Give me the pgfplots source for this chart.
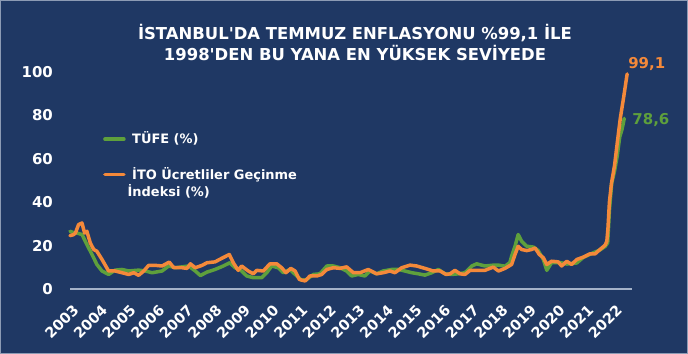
\documentclass[border=0pt]{standalone}
\usepackage{fontspec}
\setmainfont{DejaVu Sans}
\usepackage{graphicx}
\usepackage{pgfplots}
\pgfplotsset{compat=1.18}
\definecolor{bg}{HTML}{1F3864}
\definecolor{greenc}{HTML}{5EA03C}
\definecolor{orangec}{HTML}{F4893A}
\definecolor{axcol}{HTML}{A4B2C8}
\definecolor{bordc}{HTML}{8C9BB4}
\pgfplotsset{twolineimage/.style={legend image code/.code={\draw[##1, line width=3.5bp] (0bp,21.7bp) -- (19bp,21.7bp);}}}
\begin{document}
\begin{tikzpicture}
\fill[bg] (0,0) rectangle (688bp,354bp);
\draw[bordc, line width=1.2bp] (0.6bp,0.6bp) rectangle (687.4bp,353.4bp);
\node[text=white, font=\bfseries\fontsize{16.5}{20}\selectfont, inner sep=0pt] at (355bp,320.5bp) {İSTANBUL\textquotesingle DA TEMMUZ ENFLASYONU \%99,1 İLE};
\node[text=white, font=\bfseries\fontsize{16.5}{20}\selectfont, inner sep=0pt] at (355bp,301.5bp) {1998\textquotesingle DEN BU YANA EN YÜKSEK SEVİYEDE};
\begin{axis}[
  at={(70bp,65bp)}, anchor=south west,
  scale only axis, width=562bp, height=217bp,
  xmin=2003, xmax=2022.65, ymin=0, ymax=100,
  clip=false,
  axis x line=bottom, axis y line=left,
  x axis line style={-, draw=axcol, line width=1.5bp},
  y axis line style={draw=none},
  major tick length=0pt,
  tick style={draw=none},
  xtick={2003,2004,...,2022},
  ytick={0,20,...,100},
  /pgf/number format/1000 sep={},
  /pgf/number format/assume math mode=true,
  xticklabel={\rotatebox{45}{\pgfmathprintnumber{\tick}}},
  x tick label style={anchor=north east, inner sep=0pt, xshift=10bp, yshift=-14.5bp, text=white, font=\bfseries\fontsize{14.5}{14.5}\selectfont},
  y tick label style={anchor=east, inner sep=0pt, xshift=-17bp, text=white, font=\bfseries\fontsize{15}{15}\selectfont},
  legend style={at={(0.0587,0.734)}, anchor=north west, draw=none, fill=none, text=white,
    font=\bfseries\fontsize{13}{17}\selectfont, row sep=18bp, column sep=0bp, inner sep=0pt,
    cells={anchor=base west, align=left}},
  legend image code/.code={\draw[#1, line width=3.5bp] (0bp,4.7bp) -- (19bp,4.7bp);},
  every axis plot/.append style={line width=3.5bp, line join=round, line cap=round, mark=none},
]
\addplot[greenc] coordinates {
(2003.00,26.6) (2003.12,26.0) (2003.24,25.8) (2003.42,25.1) (2003.59,20.5) (2003.77,15.9)
(2003.94,11.3) (2004.12,8.3) (2004.35,6.7) (2004.58,8.7) (2004.82,9.0) (2005.05,8.3)
(2005.40,8.7) (2005.63,8.3) (2005.87,7.5) (2006.22,8.3) (2006.45,10.6) (2006.68,9.8)
(2007.15,10.6) (2007.38,8.3) (2007.56,6.2) (2007.79,7.8) (2008.07,9.0) (2008.36,10.6)
(2008.59,12.1) (2008.77,9.8) (2008.94,9.0) (2009.18,6.0) (2009.41,5.2) (2009.70,5.2)
(2009.88,7.5) (2010.05,10.6) (2010.28,9.8) (2010.46,7.5) (2010.69,9.0) (2010.93,6.0)
(2011.10,4.0) (2011.28,4.4) (2011.51,6.7) (2011.74,7.0) (2011.98,10.6) (2012.21,10.6)
(2012.44,9.8) (2012.67,8.3) (2012.85,6.0) (2013.08,6.7) (2013.31,6.0) (2013.49,8.3)
(2013.72,7.0) (2013.95,8.3) (2014.25,9.0) (2014.48,9.0) (2014.71,8.3) (2014.95,7.5)
(2015.18,7.0) (2015.41,6.4) (2015.65,7.5) (2015.88,9.0) (2016.11,7.0) (2016.35,6.7)
(2016.58,7.0) (2016.81,7.5) (2017.05,10.6) (2017.22,11.6) (2017.51,10.6) (2017.81,11.0)
(2017.98,11.0) (2018.21,10.5) (2018.38,12.2) (2018.44,15.1) (2018.56,19.7) (2018.67,25.1)
(2018.79,22.0) (2018.97,19.7) (2019.21,19.3) (2019.37,17.7) (2019.55,13.6) (2019.67,8.6)
(2019.84,12.2) (2020.13,12.2) (2020.37,11.5) (2020.72,12.0) (2020.95,14.6) (2021.30,16.7)
(2021.53,18.0) (2021.71,19.6) (2021.80,21.3) (2021.86,36.1) (2021.94,48.7) (2022.04,54.4)
(2022.13,61.1) (2022.22,70.0) (2022.30,73.5) (2022.38,78.6)
};
\addlegendentry{\ TÜFE (\%)}
\addplot[orangec, twolineimage] coordinates {
(2003.00,24.6) (2003.12,25.0) (2003.19,25.8) (2003.30,29.7) (2003.42,30.4) (2003.51,25.8)
(2003.59,26.6) (2003.71,21.2) (2003.83,18.2) (2003.94,17.4) (2004.12,13.6) (2004.35,8.3)
(2004.58,8.3) (2004.82,7.5) (2005.05,6.7) (2005.23,7.5) (2005.40,6.3) (2005.58,8.3)
(2005.75,10.9) (2005.98,10.9) (2006.22,10.6) (2006.47,12.4) (2006.63,9.8) (2006.92,9.8)
(2007.09,9.5) (2007.21,11.6) (2007.38,9.8) (2007.62,10.9) (2007.79,12.1) (2008.07,12.5)
(2008.30,14.1) (2008.57,15.9) (2008.71,12.1) (2008.88,8.6) (2009.00,10.6) (2009.23,8.3)
(2009.41,7.0) (2009.53,8.6) (2009.76,8.3) (2009.99,11.6) (2010.23,11.6) (2010.40,9.8)
(2010.55,7.5) (2010.72,9.5) (2010.87,8.3) (2011.02,4.4) (2011.22,3.7) (2011.39,6.0)
(2011.63,6.0) (2011.80,6.7) (2011.98,9.0) (2012.21,9.8) (2012.44,9.5) (2012.67,10.2)
(2012.91,7.5) (2013.14,7.5) (2013.43,9.0) (2013.72,7.0) (2013.95,7.5) (2014.19,8.3)
(2014.36,7.5) (2014.60,9.8) (2014.89,11.0) (2015.12,10.6) (2015.41,9.5) (2015.70,8.3)
(2015.94,8.3) (2016.15,6.7) (2016.29,7.0) (2016.46,8.6) (2016.64,7.0) (2016.81,6.7)
(2016.99,8.6) (2017.22,8.6) (2017.51,8.6) (2017.80,10.1) (2017.98,8.3) (2018.21,9.5)
(2018.44,11.3) (2018.56,15.9) (2018.67,19.7) (2018.79,18.2) (2018.97,17.7) (2019.14,18.2)
(2019.26,18.9) (2019.41,15.9) (2019.55,14.4) (2019.67,11.3) (2019.84,12.8) (2020.07,12.5)
(2020.19,10.6) (2020.37,12.8) (2020.54,11.3) (2020.72,13.6) (2020.95,14.7) (2021.18,16.2)
(2021.36,16.2) (2021.53,18.2) (2021.71,20.2) (2021.77,22.0) (2021.81,28.1) (2021.86,40.0)
(2021.93,48.5) (2022.04,57.0) (2022.15,69.0) (2022.24,78.6) (2022.36,88.5) (2022.48,99.1)
};
\addlegendentry{\ İTO Ücretliler Geçinme\\İndeksi (\%)}
\node[anchor=west, inner sep=0pt, text=orangec, font=\bfseries\fontsize{15}{15}\selectfont, xshift=1bp, yshift=10bp] at (axis cs:2022.48,99.1) {99,1};
\node[anchor=west, inner sep=0pt, text=greenc, font=\bfseries\fontsize{15}{15}\selectfont, xshift=8bp, yshift=-1.8bp] at (axis cs:2022.38,78.6) {78,6};
\end{axis}
\end{tikzpicture}
\end{document}
